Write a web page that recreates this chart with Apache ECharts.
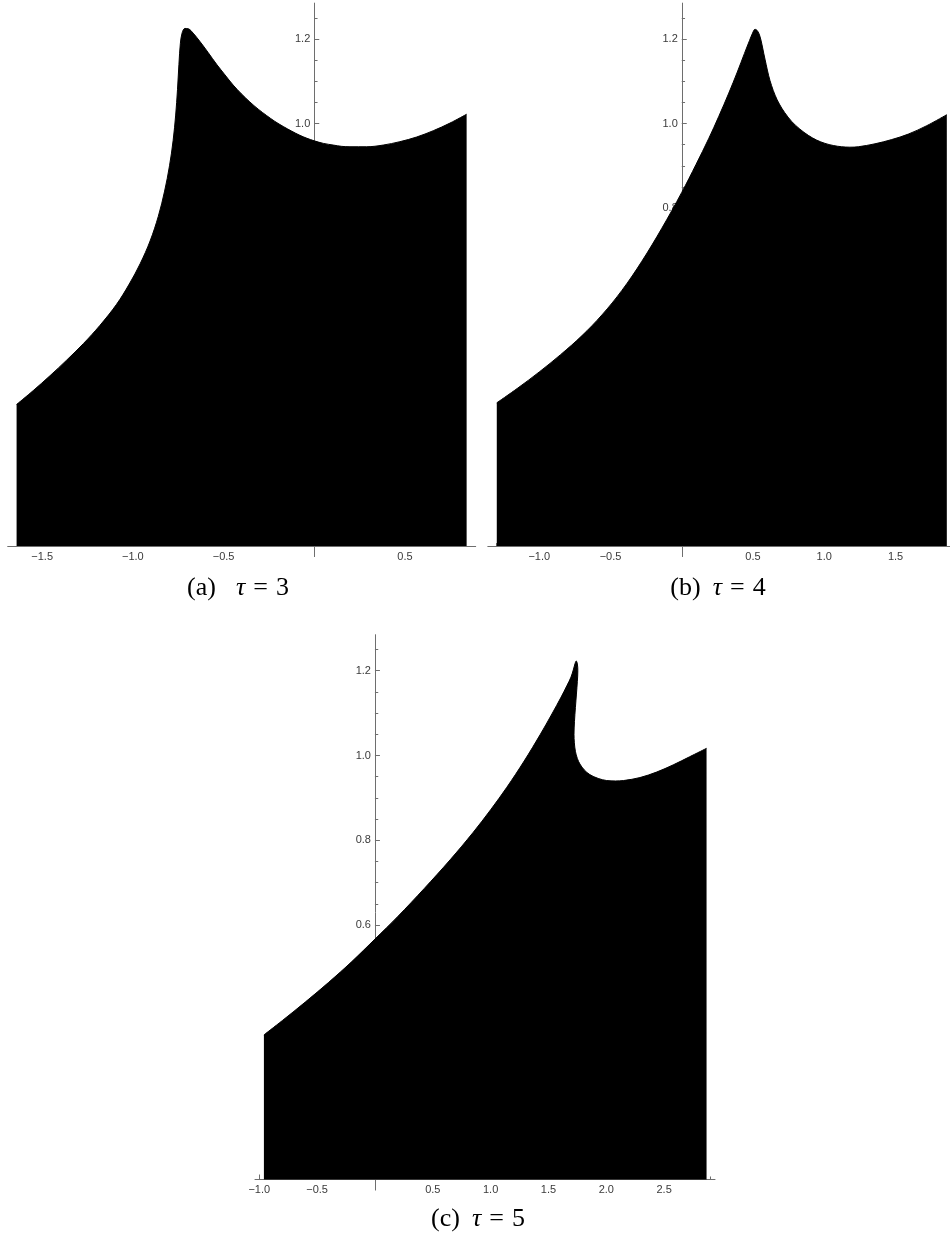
<!DOCTYPE html>
<html><head><meta charset="utf-8">
<script src="https://cdn.jsdelivr.net/npm/echarts@6/dist/echarts.min.js"></script>
<style>html,body{margin:0;padding:0;background:#fff}#c{width:950px;height:1240px}</style>
</head><body><div id="c"></div>
<script>
// ---- data: upper boundary of each filled region ----
// (a) tau = 3
const xA = [-1.641,-1.549,-1.457,-1.365,-1.273,-1.182,-1.090,-1.020,-0.960,-0.905,-0.860,-0.825,-0.798,-0.778,-0.764,-0.754,-0.746,-0.738,-0.728,-0.713,-0.693,-0.668,-0.630,-0.585,-0.538,-0.492,-0.447,-0.401,-0.355,-0.309,-0.263,-0.217,-0.171,-0.125,-0.079,-0.040,0.000,0.050,0.105,0.150,0.197,0.289,0.380,0.472,0.564,0.656,0.748,0.840];
const yA = [0.335,0.368,0.403,0.440,0.479,0.522,0.572,0.620,0.668,0.722,0.780,0.840,0.900,0.960,1.020,1.080,1.140,1.190,1.215,1.225,1.224,1.214,1.194,1.168,1.140,1.115,1.091,1.070,1.051,1.034,1.019,1.005,0.993,0.982,0.972,0.965,0.959,0.953,0.949,0.946,0.945,0.945,0.949,0.957,0.968,0.983,1.001,1.022];
// (b) tau = 4
const xB = [-1.298,-1.150,-1.000,-0.850,-0.700,-0.560,-0.420,-0.280,-0.140,0.000,0.100,0.190,0.260,0.330,0.390,0.440,0.475,0.497,0.514,0.532,0.548,0.562,0.576,0.592,0.610,0.630,0.655,0.685,0.722,0.771,0.828,0.888,0.945,1.005,1.063,1.122,1.180,1.239,1.356,1.473,1.590,1.720,1.860];
const yB = [0.339,0.374,0.412,0.453,0.498,0.547,0.605,0.674,0.752,0.837,0.903,0.965,1.017,1.072,1.122,1.166,1.196,1.214,1.223,1.219,1.207,1.188,1.165,1.140,1.113,1.090,1.067,1.046,1.026,1.005,0.987,0.972,0.961,0.953,0.948,0.945,0.944,0.945,0.952,0.962,0.975,0.995,1.021];
// (c) tau = 5
const xC = [-0.960,-0.800,-0.600,-0.400,-0.200,0.000,0.200,0.425,0.650,0.850,1.000,1.140,1.290,1.430,1.530,1.610,1.660,1.695,1.717,1.730,1.740,1.750,1.754,1.750,1.742,1.733,1.725,1.721,1.724,1.733,1.750,1.772,1.810,1.858,1.930,2.003,2.080,2.150,2.291,2.435,2.579,2.720,2.867];
const yC = [0.341,0.375,0.419,0.465,0.514,0.567,0.621,0.686,0.754,0.819,0.872,0.925,0.987,1.050,1.098,1.138,1.165,1.185,1.204,1.217,1.223,1.216,1.200,1.175,1.145,1.113,1.080,1.050,1.030,1.010,0.993,0.980,0.966,0.955,0.946,0.941,0.940,0.941,0.948,0.961,0.978,0.997,1.017];

// tick labels
const xLabelsA = [-1.5,-1.0,-0.5,0.5];
const xLabelsB = [-1.0,-0.5,0.5,1.0,1.5];
const xLabelsC = [-1.0,-0.5,0.5,1.0,1.5,2.0,2.5];
const yLabels = [0.2,0.4,0.6,0.8,1.0,1.2];
const captions = ['(a)', '(b)', '(c)'];
const taus = [3, 4, 5];

// ---- layout ----
const panels = [
  {x: xA, y: yA, xl: xLabelsA, xmin: -1.69, xmax: 0.89, left: 7.7, top: 3.1, width: 468.0, height: 553.5, cx: 238, cy: 588, g: [20, 8, 8]},
  {x: xB, y: yB, xl: xLabelsB, xmin: -1.361, xmax: 1.93, left: 487.8, top: 3.1, width: 469.0, height: 553.5, cx: 718, cy: 588, g: [12, 8, 8]},
  {x: xC, y: yC, xl: xLabelsC, xmin: -1.037, xmax: 2.94, left: 255.0, top: 634.7, width: 460.0, height: 555.4, cx: 478, cy: 1219, g: [12, 8, 8]}
];
const YMIN = -0.025, YMAX = 1.285;
const AX = '#6e6e6e', LB = '#3a3a3a', FONT = '"Liberation Sans", Arial, sans-serif';
const SERIF = '"Liberation Serif", "DejaVu Serif", serif';

function steps(lo, hi, st, skipEvery) {
  const out = [];
  for (let k = Math.ceil(lo / st - 1e-9); k * st <= hi + 1e-9; k++) {
    if (skipEvery && k % skipEvery === 0) continue;
    out.push(+(k * st).toFixed(4));
  }
  return out;
}
const fmt = v => (Math.round(v * 10) / 10).toFixed(1).replace('-', '\u2212');

const grid = [], xAxis = [], yAxis = [], series = [], graphic = [];
panels.forEach((p, i) => {
  grid.push({left: p.left, top: p.top, width: p.width, height: p.height, containLabel: false, outerBoundsMode: 'none'});
  const xi = 2 * i, yi = 2 * i;
  // place axes on the origin (pixel offsets from the grid edges)
  const yOff = -((0 - p.xmin) / (p.xmax - p.xmin)) * p.width;
  const xOff = -((0 - YMIN) / (YMAX - YMIN)) * p.height;
  xAxis.push({
    gridIndex: i, type: 'value', min: p.xmin, max: p.xmax, position: 'bottom', offset: xOff,
    axisLine: {onZero: false, lineStyle: {color: AX, width: 1}},
    axisTick: {show: true, inside: true, length: 5, customValues: steps(p.xmin, p.xmax, 0.5), lineStyle: {color: AX}},
    axisLabel: {customValues: p.xl, formatter: fmt, margin: 5, fontSize: 11, color: LB, fontFamily: FONT},
    splitLine: {show: false}
  });
  xAxis.push({
    gridIndex: i, type: 'value', min: p.xmin, max: p.xmax, position: 'bottom', offset: xOff,
    axisLine: {show: false, onZero: false},
    axisTick: {show: true, inside: true, length: 3, customValues: steps(p.xmin, p.xmax, 0.1, 5), lineStyle: {color: AX}},
    axisLabel: {show: false}, splitLine: {show: false}
  });
  yAxis.push({
    gridIndex: i, type: 'value', min: YMIN, max: YMAX, position: 'left', offset: yOff,
    axisLine: {onZero: false, lineStyle: {color: AX, width: 1}},
    axisTick: {show: true, inside: true, length: 5, customValues: steps(0.001, YMAX, 0.2), lineStyle: {color: AX}},
    axisLabel: {customValues: yLabels, formatter: fmt, margin: 4, fontSize: 11, color: LB, fontFamily: FONT},
    splitLine: {show: false}
  });
  yAxis.push({
    gridIndex: i, type: 'value', min: YMIN, max: YMAX, position: 'left', offset: yOff,
    axisLine: {show: false, onZero: false},
    axisTick: {show: true, inside: true, length: 3.3, customValues: steps(0.001, YMAX, 0.05, 4), lineStyle: {color: AX}},
    axisLabel: {show: false}, splitLine: {show: false}
  });
  series.push({
    type: 'line', xAxisIndex: xi, yAxisIndex: yi,
    data: p.x.map((v, k) => [v, p.y[k]]),
    showSymbol: false, smooth: 0.35, z: 5,
    lineStyle: {color: '#000', width: 1},
    areaStyle: {color: '#000', opacity: 1},
    emphasis: {disabled: true}, silent: true
  });
  graphic.push({
    type: 'text', x: p.cx, y: p.cy, z: 10,
    style: {
      text: '{n|' + captions[i] + '}{t|\u03c4}{e|=}{d|' + taus[i] + '}',
      align: 'center', verticalAlign: 'middle',
      rich: {
        n: {fontFamily: SERIF, fontSize: 26, fill: '#000'},
        t: {fontFamily: SERIF, fontStyle: 'italic', fontSize: 26, fill: '#000', padding: [0, 0, 0, p.g[0]]},
        e: {fontFamily: SERIF, fontSize: 26, fill: '#000', padding: [0, 0, 0, p.g[1]]},
        d: {fontFamily: SERIF, fontSize: 26, fill: '#000', padding: [0, 0, 0, p.g[2]]}
      }
    }
  });
});

const chart = echarts.init(document.getElementById('c'), null, {renderer: 'canvas'});
chart.setOption({animation: false, backgroundColor: '#fff', grid, xAxis, yAxis, series, graphic});
</script>
</body></html>
